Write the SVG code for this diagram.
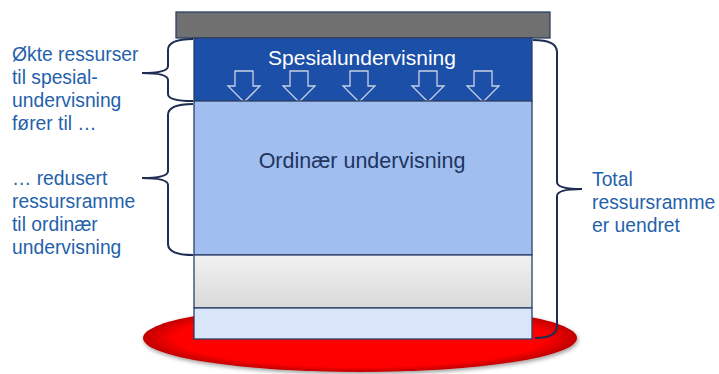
<svg xmlns="http://www.w3.org/2000/svg" width="719" height="374" viewBox="0 0 719 374">
<defs>
<radialGradient id="red" cx="0.5" cy="0.5" r="0.5">
<stop offset="0.85" stop-color="#ff0000"/>
<stop offset="1" stop-color="#c00000"/>
</radialGradient>
<linearGradient id="grey" x1="0" y1="0" x2="0" y2="1">
<stop offset="0" stop-color="#f2f2f2"/>
<stop offset="1" stop-color="#d9d9d9"/>
</linearGradient>
<filter id="sh" x="-10%" y="-10%" width="120%" height="130%">
<feGaussianBlur in="SourceAlpha" stdDeviation="2"/>
<feOffset dx="1" dy="2" result="b"/>
<feComponentTransfer><feFuncA type="linear" slope="0.4"/></feComponentTransfer>
<feMerge><feMergeNode/><feMergeNode in="SourceGraphic"/></feMerge>
</filter>
<path id="arr" d="M-9,0 H9 V15 H16 L0,31 L-16,15 H-9 Z"/>
</defs>
<style>
.box{stroke:#2b3f66;stroke-width:1.3}
.brace{fill:none;stroke:#1f2d52;stroke-width:2}
.lbl{font-family:"Liberation Sans",Arial,sans-serif;font-size:19.3px;fill:#1f62ab}
.arrow{fill:#1b4fa8;stroke:#c9d2e3;stroke-width:1.3}
</style>
<g id="base">
<ellipse cx="360" cy="338" rx="217" ry="34" fill="url(#red)" filter="url(#sh)"/>
</g>
<g id="top-bar">
<rect x="176" y="12" width="374" height="26" fill="#707070" class="box"/>
</g>
<g id="spesial">
<rect x="194" y="38" width="338" height="63" fill="#1b4fa8" class="box"/>
<text x="362" y="65" text-anchor="middle" font-family="Liberation Sans, Arial, sans-serif" font-size="21" fill="#ffffff">Spesialundervisning</text>
<use href="#arr" x="244" y="71" class="arrow"/>
<use href="#arr" x="299" y="71" class="arrow"/>
<use href="#arr" x="359" y="71" class="arrow"/>
<use href="#arr" x="428" y="71" class="arrow"/>
<use href="#arr" x="483" y="71" class="arrow"/>
</g>
<g id="ordinaer">
<rect x="194" y="101" width="338" height="154" fill="#a0bff0" class="box"/>
<text x="362" y="168" text-anchor="middle" font-family="Liberation Sans, Arial, sans-serif" font-size="21.5" fill="#1f3560">Ordinær undervisning</text>
</g>
<g id="grey-layer">
<rect x="194" y="255" width="338" height="53" fill="url(#grey)" class="box"/>
</g>
<g id="pale-layer">
<rect x="194" y="308" width="338" height="31" fill="#d9e5f8" class="box"/>
</g>
<g id="connectors">
<path class="brace" d="M193,39 Q168,39 168,50 V66 Q168,73 142,73 Q168,73 168,80 V94 Q168,101 193,101"/>
<path class="brace" d="M193,104 Q168,104 168,115 V171 Q168,178 142,178 Q168,178 168,185 V244 Q168,255 193,255"/>
<path class="brace" d="M533,40 Q557,40 557,52 V182 Q557,189 582,189 Q557,189 557,196 V326 Q557,338 535,338"/>
</g>
<g id="left-label-1">
<text class="lbl"><tspan x="12" y="61">Økte ressurser</tspan><tspan x="12" y="84">til spesial-</tspan><tspan x="12" y="107">undervisning</tspan><tspan x="12" y="130">fører til …</tspan></text>
</g>
<g id="left-label-2">
<text class="lbl"><tspan x="12" y="185">… redusert</tspan><tspan x="12" y="208">ressursramme</tspan><tspan x="12" y="231">til ordinær</tspan><tspan x="12" y="254">undervisning</tspan></text>
</g>
<g id="right-label">
<text class="lbl"><tspan x="592" y="186">Total</tspan><tspan x="592" y="209">ressursramme</tspan><tspan x="592" y="232">er uendret</tspan></text>
</g>
</svg>
